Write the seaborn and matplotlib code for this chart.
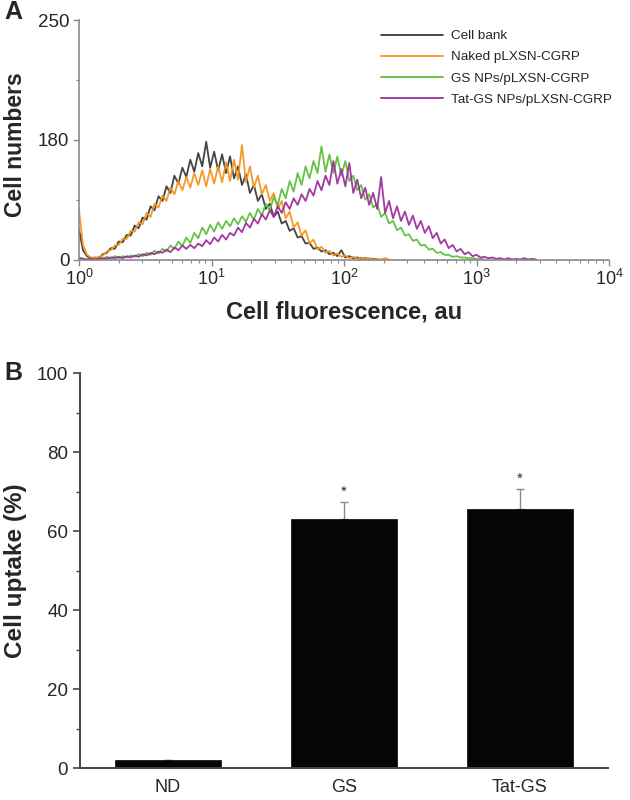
import numpy as np
import pandas as pd
import matplotlib
matplotlib.use("Agg")
import matplotlib.pyplot as plt
import seaborn as sns
from matplotlib.lines import Line2D

sns.set_theme(style="white")
plt.rcParams['font.family'] = ['Liberation Sans', 'DejaVu Sans']
plt.rcParams['mathtext.fontset'] = 'custom'
plt.rcParams['mathtext.rm'] = 'Liberation Sans'

# ---------------- Panel A data (histograms, log10 fluorescence bins) ----------------
log_bins = [0.00, 0.03, 0.06, 0.09, 0.12, 0.15, 0.18, 0.21, 0.24, 0.27,
            0.30, 0.33, 0.36, 0.39, 0.42, 0.45, 0.48, 0.51, 0.54, 0.57,
            0.60, 0.63, 0.66, 0.69, 0.72, 0.75, 0.78, 0.81, 0.84, 0.87,
            0.90, 0.93, 0.96, 0.99, 1.02, 1.05, 1.08, 1.11, 1.14, 1.17,
            1.20, 1.23, 1.26, 1.29, 1.32, 1.35, 1.38, 1.41, 1.44, 1.47,
            1.50, 1.53, 1.56, 1.59, 1.62, 1.65, 1.68, 1.71, 1.74, 1.77,
            1.80, 1.83, 1.86, 1.89, 1.92, 1.95, 1.98, 2.01, 2.04, 2.07,
            2.10, 2.13, 2.16, 2.19, 2.22, 2.25, 2.28, 2.31, 2.34, 2.37,
            2.40, 2.43, 2.46, 2.49, 2.52, 2.55, 2.58, 2.61, 2.64, 2.67,
            2.70, 2.73, 2.76, 2.79, 2.82, 2.85, 2.88, 2.91, 2.94, 2.97,
            3.00, 3.03, 3.06, 3.09, 3.12, 3.15, 3.18, 3.21, 3.24, 3.27,
            3.30, 3.33, 3.36, 3.39, 3.42, 3.45]

cell_bank = [45, 14, 5, 2, 3, 2, 8, 10, 17, 16,
             27, 26, 37, 36, 51, 47, 63, 60, 80, 74,
             95, 88, 110, 100, 126, 114, 138, 124, 150, 132,
             160, 140, 177, 138, 162, 134, 158, 130, 155, 122,
             140, 112, 128, 100, 112, 88, 98, 76, 84, 64,
             72, 54, 58, 43, 47, 33, 35, 24, 25, 16,
             18, 12, 14, 8, 10, 5, 14, 3, 5, 2,
             3, 1, 2, 1, 1, 0]

naked = [74, 22, 7, 3, 2, 4, 6, 12, 14, 21,
         22, 31, 31, 43, 42, 56, 53, 70, 64, 84,
         78, 96, 88, 108, 98, 118, 104, 124, 108, 130,
         112, 134, 110, 136, 114, 140, 116, 146, 118, 150,
         120, 172, 116, 140, 108, 126, 98, 112, 88, 100,
         76, 88, 62, 72, 48, 56, 36, 44, 24, 30,
         15, 19, 10, 13, 6, 9, 4, 6, 2, 4,
         1, 3, 1, 2, 0, 1, 0, 2, 0]

gs_nps = [3, 1, 0, 1, 0, 2, 1, 4, 2, 5,
          2, 5, 3, 6, 4, 8, 5, 10, 7, 13,
          9, 16, 12, 21, 16, 27, 20, 33, 25, 40,
          32, 48, 38, 52, 42, 56, 46, 58, 50, 62,
          53, 65, 57, 70, 60, 76, 66, 84, 74, 94,
          82, 106, 92, 118, 102, 130, 112, 140, 122, 148,
          130, 170, 132, 158, 130, 155, 126, 148, 118, 126,
          104, 112, 90, 98, 78, 84, 64, 70, 54, 58,
          44, 48, 36, 38, 28, 30, 21, 22, 15, 16,
          10, 11, 7, 7, 4, 5, 3, 3, 2, 2,
          1, 1, 0]

tat_gs_nps = [2, 1, 0, 1, 0, 1, 2, 1, 3, 2,
              4, 2, 5, 3, 6, 4, 8, 6, 10, 8,
              12, 10, 15, 11, 18, 14, 21, 16, 22, 17,
              24, 20, 29, 23, 33, 27, 37, 30, 40, 36,
              48, 41, 55, 48, 61, 54, 68, 60, 74, 64,
              80, 70, 86, 76, 92, 82, 98, 88, 106, 96,
              118, 104, 126, 112, 148, 114, 136, 110, 145, 100,
              120, 92, 108, 82, 100, 76, 124, 70, 88, 62,
              80, 58, 72, 52, 66, 46, 58, 40, 50, 32,
              40, 24, 30, 17, 22, 12, 16, 8, 11, 5,
              7, 3, 4, 2, 3, 1, 2, 0, 2, 0,
              1, 0, 2, 0, 1, 0]

series_names = ["Cell bank", "Naked pLXSN-CGRP", "GS NPs/pLXSN-CGRP",
                "Tat-GS NPs/pLXSN-CGRP"]
series_values = [cell_bank, naked, gs_nps, tat_gs_nps]
series_colors = ["#3a3a3a", "#f7941d", "#5cbf3a", "#9c2f9c"]

# ---------------- Panel B data ----------------
groups = ["ND", "GS", "Tat-GS"]
uptake = [2.0, 63.1, 65.7]
uptake_err = [0.2, 4.3, 5.1]
significant = [False, True, True]

# ---------------- Figure ----------------
fig = plt.figure(figsize=(6.3, 8), dpi=100)
axA = fig.add_axes([79 / 630, 1 - 259.5 / 800, 530 / 630, 239.5 / 800])
axB = fig.add_axes([80 / 630, 1 - 768.3 / 800, 528 / 630, (768.3 - 373.3) / 800])

rows = []
for name, vals in zip(series_names, series_values):
    for lb, v in zip(log_bins, vals):
        rows.append({"fluor": 10 ** lb, "count": v, "sample": name})
dfA = pd.DataFrame(rows)

sns.lineplot(data=dfA, x="fluor", y="count", hue="sample", hue_order=series_names,
             palette=series_colors, estimator=None, sort=False, lw=1.3, alpha=0.95,
             ax=axA, legend=False)
axA.set_xscale("log")
axA.set_xlim(1, 1e4)
axA.set_ylim(0, 360)

for s in ["top", "right"]:
    axA.spines[s].set_visible(False)
for s in ["left", "bottom"]:
    axA.spines[s].set_color("#8a8a8a")
    axA.spines[s].set_linewidth(1.2)

axA.set_xticks([1, 10, 100, 1000, 10000])
axA.set_xticklabels([r"$\mathregular{10^{0}}$", r"$\mathregular{10^{1}}$",
                     r"$\mathregular{10^{2}}$", r"$\mathregular{10^{3}}$",
                     r"$\mathregular{10^{4}}$"], fontsize=13)
axA.set_yticks([0, 180, 360])
axA.set_yticklabels(["0", "180", "250"], fontsize=13.5)
axA.set_yticks([90, 270], minor=True)
axA.tick_params(axis="both", which="major", direction="out", length=4,
                color="#8a8a8a", width=1, bottom=True, left=True, pad=3)
axA.tick_params(axis="both", which="minor", direction="out", length=2.5,
                color="#8a8a8a", width=0.8, bottom=True, left=True)
axA.set_xlabel("Cell fluorescence, au", fontsize=17, fontweight="bold", labelpad=8)
axA.set_ylabel("Cell numbers", fontsize=16.5, fontweight="bold")
axA.yaxis.set_label_coords((27 - 79) / 530, 0.478)

# legend
handles = [Line2D([0], [0], color=c, lw=1.3) for c in series_colors]
fig.legend(handles, series_names, loc="upper left",
           bbox_to_anchor=(381 / 630, 1 - 30 / 800), frameon=False,
           fontsize=9.7, handlelength=4.6, handletextpad=0.6, labelspacing=0.64,
           borderaxespad=0, borderpad=0)

# ---------------- Panel B ----------------
dfB = pd.DataFrame({"group": groups, "uptake": uptake})
sns.barplot(data=dfB, x="group", y="uptake", order=groups, color="#050505",
            width=0.6, ax=axB, errorbar=None, edgecolor="#050505", linewidth=0.5,
            saturation=1, zorder=2)
xpos = np.arange(len(groups))
axB.errorbar(xpos, uptake, yerr=[np.zeros(len(uptake)), uptake_err], fmt="none",
             ecolor="#8a8a8a", elinewidth=1.0, capsize=3, capthick=1.0, zorder=1)
for xi, m, e, sig in zip(xpos, uptake, uptake_err, significant):
    if sig:
        axB.text(xi, m + e + 2.6, "*", ha="center", va="center", fontsize=11)

axB.set_xlim(-0.5, 2.5)
axB.set_ylim(0, 100)
axB.set_yticks([0, 20, 40, 60, 80, 100])
axB.set_yticks([10, 30, 50, 70, 90], minor=True)
for s in ["top", "right"]:
    axB.spines[s].set_visible(False)
for s in ["left", "bottom"]:
    axB.spines[s].set_color("#444444")
    axB.spines[s].set_linewidth(1.4)
axB.tick_params(axis="y", which="major", direction="out", length=5, color="#444444",
                width=1.2, left=True, labelsize=13.5)
axB.tick_params(axis="y", which="minor", direction="out", length=3, color="#444444",
                width=1.0, left=True)
axB.tick_params(axis="x", which="both", length=0, labelsize=13, pad=8)
axB.set_xlabel("")
axB.set_ylabel("Cell uptake (%)", fontsize=17.5, fontweight="bold")
axB.yaxis.set_label_coords((27 - 80) / 528, 0.5)

# panel letters
fig.text(4 / 630, 1 - 12 / 800, "A", fontsize=18, fontweight="bold", va="center", ha="left")
fig.text(4 / 630, 1 - 373 / 800, "B", fontsize=18, fontweight="bold", va="center", ha="left")

fig.savefig("out.png", dpi=100)
